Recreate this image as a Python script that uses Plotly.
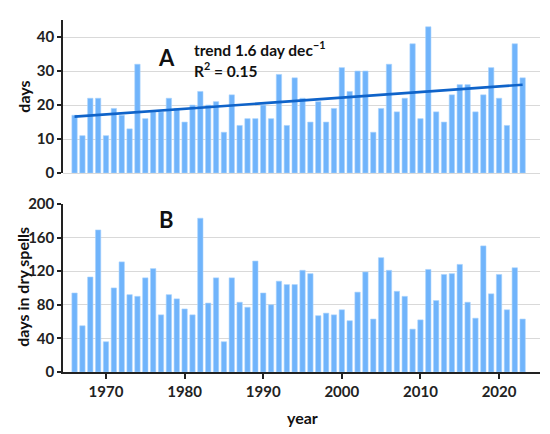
import numpy as np
import plotly.graph_objects as go
from plotly.subplots import make_subplots

# years shown in both panels
years = list(range(1966, 2024))

# panel A: days per year
days = [17, 11, 22, 22, 11, 19, 17, 13, 32, 16,
        18, 18, 22, 19, 15, 20, 24, 20, 21, 12,
        23, 14, 16, 16, 20, 16, 29, 14, 28, 22,
        15, 21, 15, 19, 31, 24, 30, 30, 12, 19,
        32, 18, 22, 38, 16, 43, 18, 15, 23, 26,
        26, 18, 23, 31, 22, 14, 38, 28]

# panel B: days in dry spells
dry_days = [94, 55, 113, 169, 36, 100, 131, 92, 90, 112,
            123, 68, 92, 87, 75, 68, 183, 82, 112, 36,
            112, 83, 77, 132, 94, 80, 108, 104, 104, 121,
            117, 67, 70, 68, 74, 61, 95, 119, 63, 136,
            121, 96, 90, 51, 62, 122, 85, 116, 117, 128,
            83, 64, 150, 93, 116, 74, 124, 63]

bar_col = "#70b4fb"
font = "Lato"

# linear trend for panel A
slope, icpt = np.polyfit(years, days, 1)
trend = [slope * y + icpt for y in years]

fig = make_subplots(rows=2, cols=1)

fig.add_trace(go.Bar(x=years, y=days, marker_color=bar_col,
                     marker_line=dict(color="#a9d3fd", width=0.6)),
              row=1, col=1)
fig.add_trace(go.Scatter(x=years, y=trend, mode="lines",
                         line=dict(color="#0f63c9", width=2.6)),
              row=1, col=1)
fig.add_trace(go.Bar(x=years, y=dry_days, marker_color=bar_col,
                     marker_line=dict(color="#a9d3fd", width=0.6)),
              row=2, col=1)

xr = [1964.53, 2025.21]
tickf = dict(family=font, size=15, color="#222", weight="bold")

fig.update_layout(
    width=550, height=434,
    margin=dict(l=63, r=10, t=11, b=62),
    plot_bgcolor="white", paper_bgcolor="white",
    showlegend=False, bargap=0.32,
    font=dict(family=font, color="#222"),
    xaxis=dict(domain=[0, 1], range=xr, showticklabels=False, showgrid=False,
               zeroline=False, showline=False, ticks="", anchor="y"),
    yaxis=dict(domain=[0.5651, 1], range=[0, 45], tickvals=[0, 10, 20, 30, 40],
               showline=True, linecolor="#222", linewidth=1.5, ticks="outside",
               ticklen=4, tickcolor="#222", tickwidth=1.5,
               showgrid=True, gridcolor="#d9d9d9", gridwidth=1,
               zeroline=True, zerolinecolor="#d9d9d9", zerolinewidth=1,
               tickfont=tickf, anchor="x"),
    xaxis2=dict(domain=[0, 1], range=xr, tickvals=[1970, 1980, 1990, 2000, 2010, 2020],
                showline=True, linecolor="#222", linewidth=1.5, ticks="outside",
                ticklen=5, tickcolor="#222", tickwidth=1.5, showgrid=False,
                zeroline=False, tickfont=tickf, anchor="y2"),
    yaxis2=dict(domain=[0, 0.4776], range=[0, 200], tickvals=[0, 40, 80, 120, 160, 200],
                showline=True, linecolor="#222", linewidth=1.5, ticks="outside",
                ticklen=4, tickcolor="#222", tickwidth=1.5,
                showgrid=True, gridcolor="#d9d9d9", gridwidth=1,
                zeroline=False, tickfont=tickf, anchor="x2"),
)

# positions below are in page pixels, turned into paper coords
def px(x):
    return (x - 63) / 477

def py(y):
    return (372 - y) / 361

bold = lambda s: "<b>" + s + "</b>"
ann = [
    dict(text=bold("A"), x=166.7, y=49, size=22, xanchor="center"),
    dict(text=bold("trend 1.6 day dec<sup>−1</sup>"), x=192, y=40, size=15.5, xanchor="left"),
    dict(text=bold("R<sup>2</sup> = 0.15"), x=192, y=62, size=15.5, xanchor="left"),
    dict(text=bold("B"), x=166, y=215.5, size=22, xanchor="center"),
    dict(text=bold("year"), x=302, y=419, size=16, xanchor="center"),
]
for a in ann:
    fig.add_annotation(text=a["text"], xref="paper", yref="paper",
                       x=px(a["x"]), y=py(a["y"]),
                       xanchor=a["xanchor"], yanchor="middle", showarrow=False,
                       font=dict(family=font, size=a["size"], color="#111"))

for txt, yc in [("days", 90), ("days in dry spells", 285)]:
    fig.add_annotation(text=bold(txt), xref="paper", yref="paper",
                       x=px(22.6), y=py(yc),
                       textangle=-90, showarrow=False,
                       xanchor="center", yanchor="middle",
                       font=dict(family=font, size=16, color="#111"))

fig.write_html("out.html", config={"displayModeBar": False},
               post_script="document.body.style.margin='0';")
